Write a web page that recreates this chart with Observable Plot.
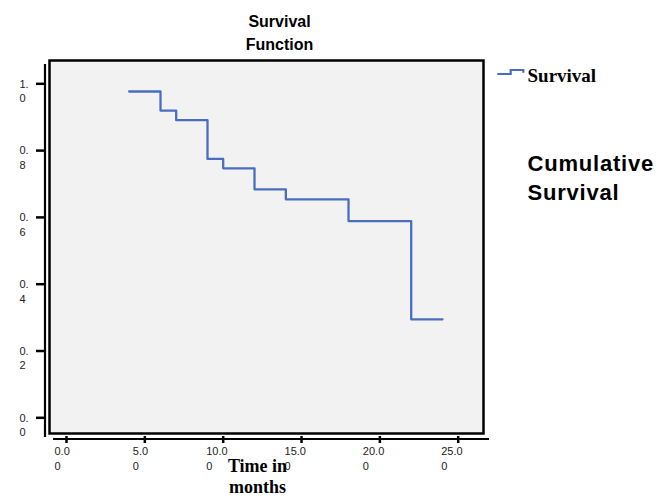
<!DOCTYPE html>
<html><head><meta charset="utf-8">
<script src="https://cdn.jsdelivr.net/npm/d3@7"></script>
<script src="https://cdn.jsdelivr.net/npm/@observablehq/plot@0.6"></script>
<style>
body{margin:0;background:#fff}
#chart{position:relative;width:666px;height:496px}
#swatch{position:absolute;left:0;top:0;pointer-events:none}
</style>
</head><body><div id="chart"></div>
<script>
const times = [4, 6, 7, 9, 10, 12, 14, 18, 22, 24];
const survival = [0.977, 0.920, 0.891, 0.775, 0.747, 0.684, 0.654, 0.589, 0.295, 0.295];
const xTicks = [0, 5, 10, 15, 20, 25];
const xTickLabels = ["0.0\n0", "5.0\n0", "10.0\n0", "15.0\n0", "20.0\n0", "25.0\n0"];
const yTicks = [0, 0.2, 0.4, 0.6, 0.8, 1.0];
const yTickLabels = ["0.\n0", "0.\n2", "0.\n4", "0.\n6", "0.\n8", "1.\n0"];
const title = "Survival\nFunction";
const xLabel = "Time in\nmonths";
const yLabel = "Cumulative\nSurvival";
const seriesName = "Survival";

const sans = "Liberation Sans, Arial, sans-serif";
const serif = "Liberation Serif, Times New Roman, serif";
const lineColor = "#4a6ebf";

const xMin = -1.085, xMax = 26.615, yMin = -0.047, yMax = 1.0698;
const data = times.map((t, i) => ({t, s: survival[i]}));
const xTickData = xTicks.map((v, i) => ({v, label: xTickLabels[i]}));
const yTickData = yTicks.map((v, i) => ({v, label: yTickLabels[i]}));

const chart = Plot.plot({
  width: 666, height: 496,
  marginLeft: 49, marginRight: 183, marginTop: 60, marginBottom: 63,
  style: {background: "#fff", overflow: "visible"},
  x: {domain: [xMin, xMax], axis: null},
  y: {domain: [yMin, yMax], axis: null},
  marks: [
    Plot.frame({fill: "#f2f2f2", stroke: "#000", strokeWidth: 2.5}),
    Plot.ruleX([xMin], {y1: yMax, y2: yMin, dx: -4.5, insetTop: 4, insetBottom: -4, stroke: "#000", strokeWidth: 2.2}),
    Plot.ruleY([yMin], {x1: xMin, x2: xMax, dy: 5.5, insetLeft: 4, insetRight: -6, stroke: "#000", strokeWidth: 2.2}),
    Plot.ruleX(xTicks, {y1: yMin, y2: yMin, insetTop: 3, insetBottom: -10, stroke: "#000", strokeWidth: 2.5}),
    Plot.ruleY(yTicks, {x1: xMin, x2: xMin, insetLeft: -13, insetRight: 5, stroke: "#000", strokeWidth: 2.5}),
    Plot.line(data, {x: "t", y: "s", curve: "step-after", stroke: lineColor, strokeWidth: 2.3}),
    Plot.text(yTickData, {y: "v", text: "label", frameAnchor: "left", dx: -30, dy: 6.5, textAnchor: "start", lineAnchor: "middle", lineHeight: 1.33, fontSize: 11, fontFamily: sans, fill: "#222"}),
    Plot.text(xTickData.filter(d => d.label.indexOf(".") === 1), {x: "v", text: "label", frameAnchor: "bottom", dx: -12, dy: 24.3, textAnchor: "start", lineAnchor: "middle", lineHeight: 1.32, fontSize: 11, fontFamily: sans, fill: "#222"}),
    Plot.text(xTickData.filter(d => d.label.indexOf(".") === 2), {x: "v", text: "label", frameAnchor: "bottom", dx: -17, dy: 24.3, textAnchor: "start", lineAnchor: "middle", lineHeight: 1.32, fontSize: 11, fontFamily: sans, fill: "#222"}),
    Plot.text([title], {text: d => d, frameAnchor: "top", dx: 13, dy: -29.5, lineAnchor: "middle", lineHeight: 1.44, fontSize: 16, fontWeight: "bold", fontFamily: sans, fill: "#000"}),
    Plot.text([xLabel], {text: d => d, frameAnchor: "bottom", dx: -9, dy: 42, lineAnchor: "middle", lineHeight: 1.18, fontSize: 18, fontWeight: "bold", fontFamily: serif, fill: "#000"}),
    Plot.text([yLabel], {text: d => d, frameAnchor: "top-right", dx: 44, dy: 116, textAnchor: "start", lineAnchor: "middle", lineHeight: 1.3, fontSize: 22, fontWeight: "bold", fontFamily: sans, fill: "#000"}),
    Plot.text([seriesName], {text: d => d, frameAnchor: "top-right", dx: 44, dy: 15, textAnchor: "start", lineAnchor: "middle", fontSize: 19, fontWeight: "bold", fontFamily: serif, fill: "#000"})
  ]
});
const root = document.getElementById("chart");
root.appendChild(chart);
d3.select(chart).selectAll("text")
  .filter(function(){ return this.textContent.indexOf("Cumulative") === 0; })
  .style("letter-spacing", "0.8px");
// legend swatch
const sw = d3.select(root).append("svg").attr("id", "swatch").attr("width", 666).attr("height", 496);
sw.append("path").attr("d", "M497.3,74H510.7V70H523.3V72.7").attr("fill", "none").attr("stroke", lineColor).attr("stroke-width", 2.2);
</script>
</body></html>
